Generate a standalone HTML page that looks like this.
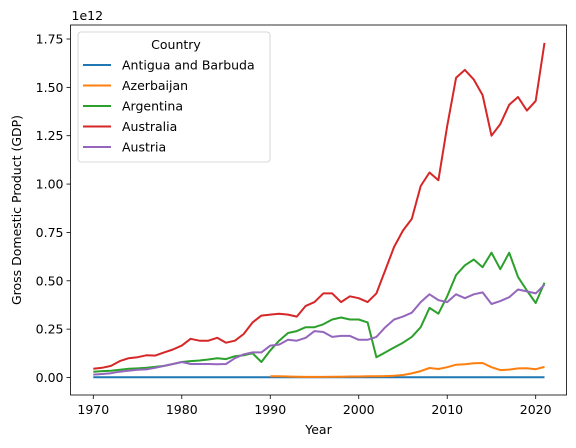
<!DOCTYPE html>
<html><head><meta charset="utf-8"><style>
body{margin:0;background:#fff;}
svg{display:block;font-family:"DejaVu Sans","Liberation Sans",sans-serif;}
</style></head><body>
<svg id="chart" width="576" height="448">
<rect x="0" y="0" width="576" height="448" fill="#fff"/>
<g id="plot"></g>
</svg>
<script>
const years=[];for(let y=1970;y<=2021;y++)years.push(y);
const antigua=years.map(()=>0.0015);
const azerYears=[];for(let y=1990;y<=2021;y++)azerYears.push(y);
const azerbaijan=[.006,.006,.005,.004,.003,.003,.003,.004,.004,.005,.005,.006,.006,.007,.009,.013,.021,.033,.049,.044,.053,.066,.069,.074,.075,.053,.038,.041,.047,.048,.043,.055];
const argentina=[.03,.033,.035,.04,.045,.047,.05,.055,.06,.07,.08,.085,.088,.093,.1,.095,.11,.115,.125,.08,.14,.19,.23,.24,.26,.26,.275,.3,.31,.3,.3,.285,.105,.13,.155,.18,.21,.26,.36,.33,.42,.53,.58,.61,.57,.645,.56,.645,.52,.45,.385,.49];
const australia=[.045,.05,.06,.085,.10,.105,.115,.113,.13,.145,.165,.2,.19,.19,.205,.18,.19,.225,.285,.32,.325,.33,.325,.315,.37,.39,.435,.435,.39,.42,.41,.39,.435,.555,.675,.76,.82,.99,1.06,1.02,1.3,1.55,1.59,1.54,1.46,1.25,1.31,1.41,1.45,1.38,1.43,1.73];
const austria=[.015,.018,.022,.03,.035,.04,.042,.05,.06,.07,.08,.07,.07,.07,.068,.07,.1,.12,.13,.13,.165,.17,.195,.19,.205,.24,.235,.21,.215,.215,.195,.195,.21,.26,.30,.315,.335,.39,.43,.40,.39,.43,.41,.43,.44,.38,.395,.415,.455,.445,.435,.48];
const xTicks=[1970,1980,1990,2000,2010,2020];
const yTicks=[0,0.25,0.5,0.75,1.0,1.25,1.5,1.75];
const seriesNames=["Antigua and Barbuda","Azerbaijan","Argentina","Australia","Austria"];
const colors=["#1f77b4","#ff7f0e","#2ca02c","#d62728","#9467bd"];

const L=70.5,R=566.5,T=25,B=395;
const FS=12.5;
const xs=y=>93.3+(y-1970)*(442.4/50);
const ys=v=>377.5-v*(338.5/1.75);
const NS="http://www.w3.org/2000/svg";
const g=document.getElementById('plot');
function mk(tag,attrs,parent){const e=document.createElementNS(NS,tag);for(const k in attrs)e.setAttribute(k,attrs[k]);(parent||g).appendChild(e);return e;}

xTicks.forEach(t=>{
 const l=mk('line',{x1:xs(t),x2:xs(t),y1:B,y2:B+4,stroke:'#000','stroke-width':0.8});
 
 
 const tx=mk('text',{x:xs(t),y:B+19,'text-anchor':'middle','font-size':FS});
 tx.textContent=t;
 
 
});
yTicks.forEach(t=>{
 const l=mk('line',{x1:L-4,x2:L,y1:ys(t),y2:ys(t),stroke:'#000','stroke-width':0.8});
 
 
 const tx=mk('text',{x:L-7,y:ys(t)+4.5,'text-anchor':'end','font-size':FS});
 tx.textContent=t.toFixed(2);
 
 
});

function line(xv,vals,i){
 const d=vals.map((v,k)=>(k?'L':'M')+xs(xv[k]).toFixed(1)+','+ys(v).toFixed(1)).join('');
 const p=mk('path',{d:d,fill:'none',stroke:colors[i],'stroke-width':2,'stroke-linejoin':'round'});
 
 
}
line(years,antigua,0);
line(azerYears,azerbaijan,1);
line(years,argentina,2);
line(years,australia,3);
line(years,austria,4);

const frame=mk('rect',{x:L,y:T,width:R-L,height:B-T,fill:'none',stroke:'#000','stroke-width':0.8});



const off=mk('text',{x:L+1,y:T-5,'font-size':FS});off.textContent='1e12';


const xt=mk('text',{x:(L+R)/2,y:434,'text-anchor':'middle','font-size':FS});xt.textContent='Year';


const yt=mk('text',{x:0,y:0,'text-anchor':'middle','font-size':FS,transform:'translate(21,'+((T+B)/2)+') rotate(-90)'});yt.textContent='Gross Domestic Product (GDP)';



const lg=mk('g',{});


mk('rect',{x:78,y:32,width:192,height:130,rx:3,fill:'#fff','fill-opacity':0.8,stroke:'#ccc','stroke-width':0.8},lg);
const lt=mk('text',{x:176,y:49,'text-anchor':'middle','font-size':FS},lg);lt.textContent='Country';


seriesNames.forEach((n,i)=>{
 const y=65+i*20.5;
 const e=mk('g',{},lg);
 
 
 mk('line',{x1:83,x2:111,y1:y,y2:y,stroke:colors[i],'stroke-width':2},e);
 const t=mk('text',{x:122,y:y+4.5,'font-size':FS},e);t.textContent=n;
});
</script>
</body></html>
